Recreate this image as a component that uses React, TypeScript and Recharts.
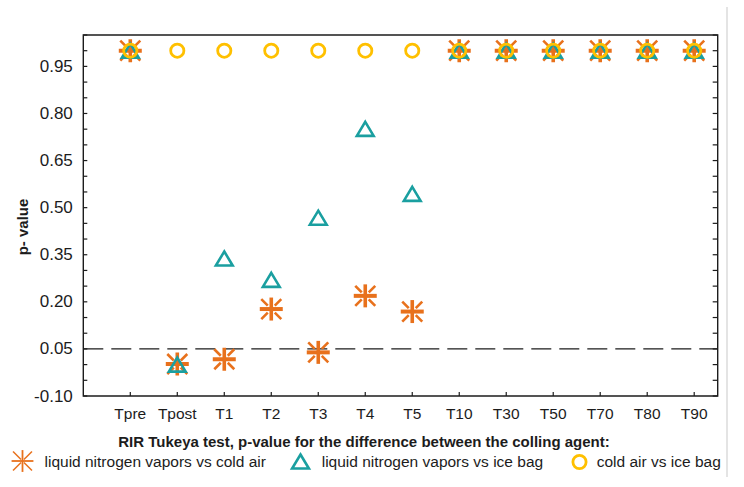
import React from 'react';
import {
  ScatterChart,
  Scatter,
  XAxis,
  YAxis,
  ReferenceLine,
  ReferenceArea,
  Customized,
} from 'recharts';

const categories = ['Tpre', 'Tpost', 'T1', 'T2', 'T3', 'T4', 'T5', 'T10', 'T30', 'T50', 'T70', 'T80', 'T90'];
const positions = [1, 2, 3, 4, 5, 6, 7, 8, 9, 10, 11, 12, 13];
const nitrogenVsColdAir = [1.0, 0.002, 0.017, 0.177, 0.039, 0.219, 0.169, 1.0, 1.0, 1.0, 1.0, 1.0, 1.0];
const nitrogenVsIceBag = [1.0, 0.0, 0.338, 0.27, 0.468, 0.751, 0.544, 1.0, 1.0, 1.0, 1.0, 1.0, 1.0];
const coldAirVsIceBag = [1.0, 1.0, 1.0, 1.0, 1.0, 1.0, 1.0, 1.0, 1.0, 1.0, 1.0, 1.0, 1.0];
const yTicks = [-0.1, -0.05, 0, 0.05, 0.1, 0.15, 0.2, 0.25, 0.3, 0.35, 0.4, 0.45, 0.5, 0.55, 0.6, 0.65, 0.7, 0.75, 0.8, 0.85, 0.9, 0.95, 1.0, 1.05];
const yLabelTicks = [-0.1, 0.05, 0.2, 0.35, 0.5, 0.65, 0.8, 0.95];
const seriesNames = ['liquid nitrogen vapors vs cold air', 'liquid nitrogen vapors vs ice bag', 'cold air vs ice bag'];
const xTitle = 'RIR Tukeya test, p-value for the difference between the colling agent:';
const yTitle = 'p- value';
const significance = 0.05;

const ORANGE = '#E8711C';
const TEAL = '#1A9FA0';
const YELLOW = '#FFC000';
const INK = '#1c1c1c';
const FONT = "'Liberation Sans', Arial, sans-serif";

const toPoints = (vals: number[]) =>
  positions.map((p, i) => ({ x: p, y: vals[i], name: categories[i] }));

const AsteriskMark = ({ cx, cy, s = 1, thin = false }: any) => {
  const r = 11.5 * s;
  const d = 10 * s;
  const d0 = thin ? 1.5 * s : 3.5 * s;
  const wh = thin ? 1.8 : 4;
  const wv = thin ? 1.8 : 3.6;
  const wd = thin ? 1.5 : 2.6;
  return (
    <g>
      <line x1={cx - d} y1={cy - d} x2={cx - d0} y2={cy - d0} stroke={ORANGE} strokeWidth={wd} />
      <line x1={cx + d} y1={cy - d} x2={cx + d0} y2={cy - d0} stroke={ORANGE} strokeWidth={wd} />
      <line x1={cx - d} y1={cy + d} x2={cx - d0} y2={cy + d0} stroke={ORANGE} strokeWidth={wd} />
      <line x1={cx + d} y1={cy + d} x2={cx + d0} y2={cy + d0} stroke={ORANGE} strokeWidth={wd} />
      <line x1={cx - r} y1={cy} x2={cx + r} y2={cy} stroke={ORANGE} strokeWidth={wh} />
      <line x1={cx} y1={cy - r} x2={cx} y2={cy + r} stroke={ORANGE} strokeWidth={wv} />
    </g>
  );
};

const TriangleMark = ({ cx, cy }: any) => {
  const w = 8.4;
  const h = 7;
  return (
    <polygon
      points={`${cx},${cy - h} ${cx + w},${cy + h} ${cx - w},${cy + h}`}
      fill="none"
      stroke={TEAL}
      strokeWidth={2.6}
    />
  );
};

const CircleMark = ({ cx, cy }: any) => (
  <circle cx={cx} cy={cy} r={6.6} fill="none" stroke={YELLOW} strokeWidth={2.8} />
);

const isMajor = (v: number) => yLabelTicks.some((t) => Math.abs(t - v) < 1e-6);

const LeftTick = ({ x, y, payload }: any) => (
  <g>
    <line x1={x} y1={y} x2={x + 4} y2={y} stroke={INK} strokeWidth={1.2} />
    {isMajor(payload.value) && (
      <text x={x - 10.5} y={y} textAnchor="end" dominantBaseline="central" fontFamily={FONT} fontSize={17} fill={INK}>
        {payload.value.toFixed(2)}
      </text>
    )}
  </g>
);

const RightTick = ({ x, y }: any) => (
  <line x1={x - 5} y1={y} x2={x} y2={y} stroke={INK} strokeWidth={1.2} />
);

const BottomTick = ({ x, y, payload }: any) => (
  <g>
    <line x1={x} y1={y} x2={x} y2={y - 4} stroke={INK} strokeWidth={1.2} />
    <text x={x} y={y + 23} textAnchor="middle" fontFamily={FONT} fontSize={15.5} fill={INK}>
      {categories[positions.indexOf(payload.value)]}
    </text>
  </g>
);

const Overlay = () => (
  <g>
    <line x1={727} y1={7} x2={727} y2={477} stroke="#e4e4e4" strokeWidth={2} />
    <text
      transform="translate(22,227) rotate(-90)"
      textAnchor="middle"
      dominantBaseline="central"
      fontFamily={FONT}
      fontWeight="bold"
      fontSize={15}
      fill={INK}
    >
      {yTitle}
    </text>
    <text x={364} y={447} textAnchor="middle" fontFamily={FONT} fontWeight="bold" fontSize={15} fill={INK}>
      {xTitle}
    </text>
    <AsteriskMark cx={22.5} cy={461} s={0.95} thin />
    <text x={44.5} y={461} dominantBaseline="central" fontFamily={FONT} fontSize={15.5} fill={INK}>
      {seriesNames[0]}
    </text>
    <TriangleMark cx={300.5} cy={461.5} />
    <text x={321.7} y={461} dominantBaseline="central" fontFamily={FONT} fontSize={15.5} fill={INK}>
      {seriesNames[1]}
    </text>
    <CircleMark cx={579.5} cy={462} />
    <text x={596.7} y={461} dominantBaseline="central" fontFamily={FONT} fontSize={15.5} fill={INK}>
      {seriesNames[2]}
    </text>
  </g>
);

export default function App() {
  return (
    <div style={{ position: 'absolute', left: 0, top: 0, width: 744, height: 487, background: '#fff' }}>
      <ScatterChart width={744} height={487} margin={{ top: 35, right: 25.3, bottom: 51, left: 0 }}>
        <XAxis
          type="number"
          dataKey="x"
          domain={[0, 13.5]}
          ticks={positions}
          interval={0}
          allowDataOverflow
          axisLine={false}
          tickLine={false}
          tickSize={0}
          tickMargin={0}
          height={40}
          tick={<BottomTick />}
        />
        <YAxis
          yAxisId="left"
          type="number"
          dataKey="y"
          domain={[-0.1, 1.05]}
          ticks={yTicks}
          interval={0}
          allowDataOverflow
          axisLine={false}
          tickLine={false}
          tickSize={0}
          tickMargin={0}
          width={83.3}
          tick={<LeftTick />}
        />
        <YAxis
          yAxisId="right"
          orientation="right"
          type="number"
          dataKey="y"
          domain={[-0.1, 1.05]}
          ticks={yTicks}
          interval={0}
          allowDataOverflow
          axisLine={false}
          tickLine={false}
          tickSize={0}
          tickMargin={0}
          width={1}
          tick={<RightTick />}
        />
        <ReferenceArea
          yAxisId="left"
          x1={0}
          x2={13.5}
          y1={-0.1}
          y2={1.05}
          fill="none"
          stroke={INK}
          strokeWidth={1.4}
          ifOverflow="visible"
        />
        <ReferenceLine
          yAxisId="left"
          y={significance}
          stroke={INK}
          strokeWidth={1.3}
          strokeDasharray="20 8"
        />
        <Scatter
          yAxisId="left"
          name={seriesNames[0]}
          data={toPoints(nitrogenVsColdAir)}
          shape={(p: any) => <AsteriskMark cx={p.cx} cy={p.cy} />}
          isAnimationActive={false}
        />
        <Scatter
          yAxisId="left"
          name={seriesNames[1]}
          data={toPoints(nitrogenVsIceBag)}
          shape={(p: any) => <TriangleMark cx={p.cx} cy={p.cy} />}
          isAnimationActive={false}
        />
        <Scatter
          yAxisId="right"
          name={seriesNames[2]}
          data={toPoints(coldAirVsIceBag)}
          shape={(p: any) => <CircleMark cx={p.cx} cy={p.cy} />}
          isAnimationActive={false}
        />
        <Customized component={Overlay} />
      </ScatterChart>
    </div>
  );
}
